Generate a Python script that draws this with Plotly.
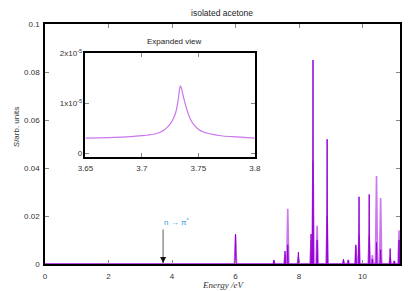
import plotly.graph_objects as go

# ---- data ----
peak_energy = [6.00, 7.21, 7.56, 7.645, 7.98, 8.38, 8.44, 8.57, 8.885, 9.40, 9.55,
               9.79, 9.89, 10.21, 10.31, 10.44, 10.57, 10.87, 11.00, 11.15]
light_height = [0.012, 0.001, 0.004, 0.023, 0.003, 0.010, 0.043, 0.016, 0.020, 0.0015, 0.0018,
                0.007, 0.012, 0.012, 0.0037, 0.0367, 0.0275, 0.003, 0.0014, 0.014]
dark_height = [0.0125, 0.0017, 0.0054, 0.008, 0.0049, 0.0125, 0.085, 0.010, 0.052, 0.002, 0.0015,
               0.008, 0.028, 0.029, 0.002, 0.009, 0.006, 0.0064, 0.0012, 0.010]

inset_energy = [3.650, 3.670, 3.690, 3.700, 3.710, 3.715, 3.720, 3.725, 3.728, 3.730,
                3.732, 3.733, 3.734, 3.735, 3.736, 3.738, 3.740, 3.743, 3.746, 3.750,
                3.755, 3.760, 3.770, 3.780, 3.800]
inset_signal_e5 = [0.30, 0.31, 0.33, 0.35, 0.38, 0.41, 0.47, 0.58, 0.70, 0.82,
                   1.05, 1.22, 1.35, 1.30, 1.20, 1.02, 0.86, 0.68, 0.57, 0.48,
                   0.42, 0.39, 0.35, 0.33, 0.30]

x_ticks = [0, 2, 4, 6, 8, 10]
y_ticks = [0, 0.02, 0.04, 0.06, 0.08, 0.1]
y_ticktext = ["0", "0.02", "0.04", "0.06", "0.08", "0.1"]
inset_x_ticks = [3.65, 3.7, 3.75, 3.8]
inset_y_tickvals_e5 = [0, 1, 2]
inset_y_ticktext = ["0", "1x10<sup>-5</sup>", "2x10<sup>-5</sup>"]

transition_energy = 3.72
transition_label = "n → π<sup>*</sup>"

X_MAX = 11.18
LIGHT = "#cc77ee"
DARK = "#9400d3"


def spikes(energies, heights, half):
    xs, ys = [0.0], [0.0]
    for e, h in sorted(zip(energies, heights)):
        xs += [e - half, e, e + half]
        ys += [0.0, h, 0.0]
    xs.append(X_MAX)
    ys.append(0.0)
    return xs, ys


fig = go.Figure()
lx, ly = spikes(peak_energy, light_height, 0.035)
dx, dy = spikes(peak_energy, dark_height, 0.015)
fig.add_trace(go.Scatter(x=lx, y=ly, mode="lines", line=dict(color=LIGHT, width=1.6),
                         showlegend=False, hoverinfo="skip"))
fig.add_trace(go.Scatter(x=dx, y=dy, mode="lines", line=dict(color=DARK, width=1),
                         showlegend=False, hoverinfo="skip"))
fig.add_trace(go.Scatter(x=inset_energy, y=[v * 1e-5 for v in inset_signal_e5],
                         mode="lines", line=dict(color=LIGHT, width=1.2, shape="spline"),
                         xaxis="x2", yaxis="y2", showlegend=False, hoverinfo="skip"))

tickfont = dict(family="Liberation Sans, Arial, sans-serif", size=8, color="#333333")
axis_common = dict(showline=True, linecolor="black", linewidth=1.5, mirror="ticks",
                   ticks="inside", ticklen=4, tickcolor="#888888", showgrid=False,
                   zeroline=False, tickfont=tickfont, automargin=False)

fig.update_layout(
    width=415, height=291,
    margin=dict(l=45, r=15, t=24, b=27),
    paper_bgcolor="white", plot_bgcolor="white",
    title=dict(text="isolated acetone", x=0.535, xanchor="center", y=1 - 13 / 291,
               yanchor="middle", font=dict(family="Liberation Sans, Arial, sans-serif",
                                           size=8.5, color="#222222")),
    xaxis=dict(range=[0, X_MAX], tickvals=x_ticks, ticklabelstandoff=4, **axis_common),
    yaxis=dict(range=[0, 0.1], tickvals=y_ticks, ticktext=y_ticktext, ticklabelstandoff=2,
               **axis_common),
    xaxis2=dict(domain=[0.114, 0.591], anchor="y2", range=[3.65, 3.8],
                tickvals=inset_x_ticks, ticktext=["3.65", "3.7", "3.75", "3.8"],
                ticklabelstandoff=2, **axis_common),
    yaxis2=dict(domain=[0.445, 0.878], anchor="x2", range=[-0.08e-5, 2e-5],
                tickvals=[v * 1e-5 for v in inset_y_tickvals_e5], ticktext=inset_y_ticktext,
                **axis_common),
)

fig.add_annotation(x=0.281, y=0.925, xref="paper", yref="paper", showarrow=False,
                   text="Expanded view", yanchor="middle",
                   font=dict(family="Liberation Sans, Arial, sans-serif", size=8, color="#222222"))
fig.add_annotation(x=0.5, y=-0.0875, xref="paper", yref="paper", showarrow=False,
                   text="<i>Energy /eV</i>", yanchor="middle",
                   font=dict(family="Liberation Serif, Times New Roman, serif", size=9, color="#333333"))
fig.add_annotation(x=-0.100, y=0.57, xref="paper", yref="paper", showarrow=False,
                   text="<i>S</i>/arb. units", textangle=-90,
                   font=dict(family="Liberation Sans, Arial, sans-serif", size=8, color="#333333"))

# arrow marking the n -> pi* transition
fig.add_annotation(x=transition_energy, y=0.0004, ax=transition_energy, ay=0.015,
                   xref="x", yref="y", axref="x", ayref="y", showarrow=True, text="",
                   arrowhead=0, arrowwidth=1.6, arrowcolor="#999999")
fig.add_annotation(x=transition_energy, y=0.0004, ax=transition_energy, ay=0.003,
                   xref="x", yref="y", axref="x", ayref="y", showarrow=True, text="",
                   arrowhead=2, arrowsize=1, arrowwidth=1.2, arrowcolor="#111111")
fig.add_annotation(x=transition_energy - 0.04, y=0.0175, xref="x", yref="y", showarrow=False,
                   xanchor="left", text=transition_label,
                   font=dict(family="Liberation Sans, Arial, sans-serif", size=8, color="#3399dd"))

fig.write_html("out.html", config={"displayModeBar": False},
               post_script="document.body.style.margin='0';")
